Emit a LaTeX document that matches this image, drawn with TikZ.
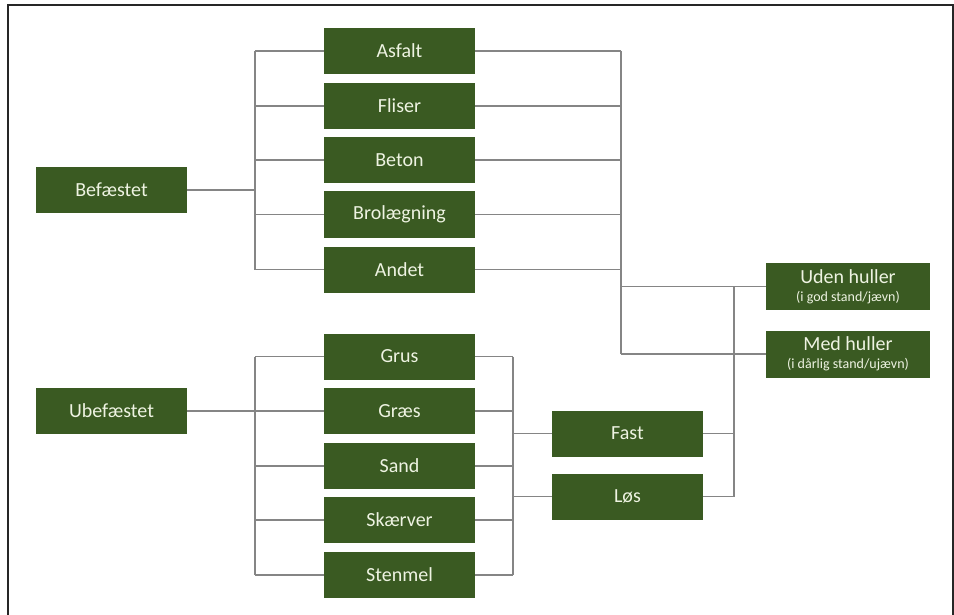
\documentclass[tikz,border=0pt]{standalone}
\usepackage{fontspec}
\setmainfont{Carlito}
\definecolor{boxgreen}{HTML}{3A5A22}
\definecolor{boxtext}{HTML}{EEF3E2}
\definecolor{conn}{HTML}{858585}
\tikzset{
  catbox/.style={draw=none, fill=boxgreen, text=boxtext, inner sep=0pt,
    minimum width=151pt, minimum height=46pt, font=\fontsize{20}{22}\selectfont},
  statebox/.style={catbox, minimum width=164pt, minimum height=47pt, align=center},
  link/.style={draw=conn, line width=1.3pt},
  frameline/.style={draw=black!85, line width=1.3pt}
}
\begin{document}
\begin{tikzpicture}[x=1pt,y=-1pt]
\useasboundingbox (0,0) rectangle (954,615);
\draw[frameline] (8,615) -- (8,5) -- (953,5) -- (953,615);

% left column
\node[catbox] (bef) at (111.5,190) {Befæstet};
\node[catbox] (ubef) at (111.5,411) {Ubefæstet};

% middle column
\node[catbox] (asfalt) at (399.5,51) {Asfalt};
\node[catbox] (fliser) at (399.5,106) {Fliser};
\node[catbox] (beton) at (399.5,160) {Beton};
\node[catbox] (brol) at (399.5,214.5) {Brolægning};
\node[catbox] (andet) at (399.5,269.5) {Andet};

\node[catbox] (grus) at (399.5,356.5) {Grus};
\node[catbox] (graes) at (399.5,411) {Græs};
\node[catbox] (sand) at (399.5,466) {Sand};
\node[catbox] (skaer) at (399.5,520) {Skærver};
\node[catbox] (sten) at (399.5,575) {Stenmel};

% fast / løs
\node[catbox] (fast) at (627.5,433.5) {Fast};
\node[catbox] (los) at (627.5,496.5) {Løs};

% states
\node[statebox] (uden) at (848,286.5) {Uden huller\\[-4pt]{\fontsize{14}{15}\selectfont (i god stand/jævn)}};
\node[statebox] (med) at (848,354) {Med huller\\[-4pt]{\fontsize{14}{15}\selectfont (i dårlig stand/ujævn)}};

% junction columns
\coordinate (ja) at (255,0);
\coordinate (jb) at (621,0);
\coordinate (jc) at (513,0);
\coordinate (jd) at (734,0);

% Befæstet tree
\draw[link] (bef.east) -- (bef.east -| ja);
\draw[link] (asfalt.west -| ja) -- (andet.west -| ja);
\foreach \n in {asfalt,fliser,beton,brol,andet}
  \draw[link] (\n.west -| ja) -- (\n.west);

% Ubefæstet tree
\draw[link] (ubef.east) -- (ubef.east -| ja);
\draw[link] (grus.west -| ja) -- (sten.west -| ja);
\foreach \n in {grus,graes,sand,skaer,sten}
  \draw[link] (\n.west -| ja) -- (\n.west);

% befæstet materials to states
\foreach \n in {asfalt,fliser,beton,brol,andet}
  \draw[link] (\n.east) -- (\n.east -| jb);
\draw[link] (asfalt.east -| jb) -- (med.west -| jb);
\draw[link] (uden.west -| jb) -- (uden.west);
\draw[link] (med.west -| jb) -- (med.west);

% ubefæstet materials to fast/løs
\foreach \n in {grus,graes,sand,skaer,sten}
  \draw[link] (\n.east) -- (\n.east -| jc);
\draw[link] (grus.east -| jc) -- (sten.east -| jc);
\draw[link] (fast.west -| jc) -- (fast.west);
\draw[link] (los.west -| jc) -- (los.west);

% fast/løs to states
\draw[link] (fast.east) -- (fast.east -| jd);
\draw[link] (los.east) -- (los.east -| jd);
\draw[link] (uden.west -| jd) -- (los.east -| jd);
\end{tikzpicture}
\end{document}
